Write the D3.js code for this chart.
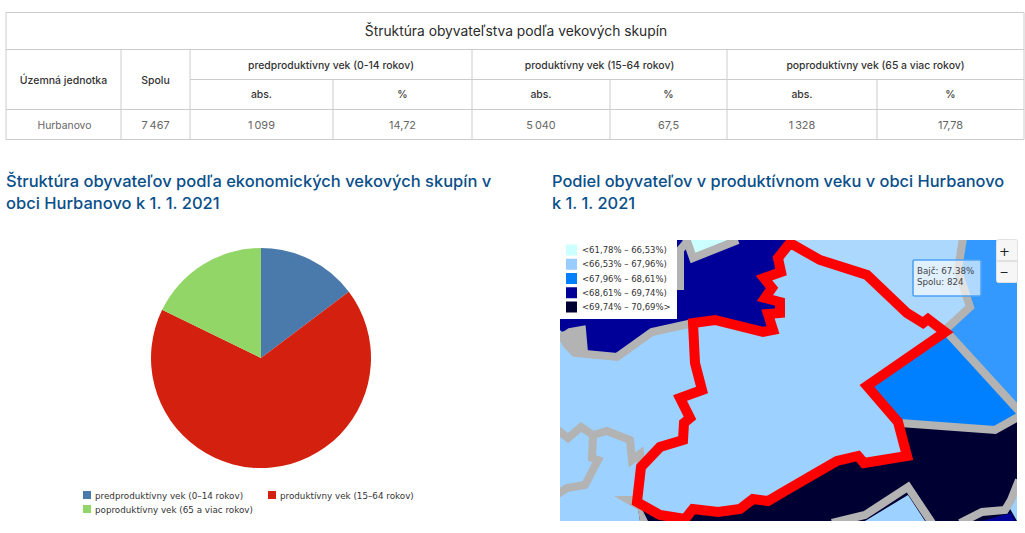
<!DOCTYPE html>
<html lang="sk"><head><meta charset="utf-8">
<script src="https://cdn.jsdelivr.net/npm/d3@7/dist/d3.min.js"></script>
<style>html,body{margin:0;background:#fff}svg{display:block}</style></head>
<body><svg id="c" width="1025" height="533"></svg>
<script>
// ---------- data ----------
const tableTitle = "Štruktúra obyvateľstva podľa vekových skupín";
const groupHeaders = ["predproduktívny vek (0-14 rokov)","produktívny vek (15-64 rokov)","poproduktívny vek (65 a viac rokov)"];
const rowHeaders = ["Územná jednotka","Spolu"];
const subHeaders = ["abs.","%","abs.","%","abs.","%"];
const rowValues = ["Hurbanovo","7\u2009467","1\u2009099","14,72","5\u2009040","67,5","1\u2009328","17,78"];
const pieTitle = ["Štruktúra obyvateľov podľa ekonomických vekových skupín v","obci Hurbanovo k 1. 1. 2021"];
const mapTitle = ["Podiel obyvateľov v produktívnom veku v obci Hurbanovo","k 1. 1. 2021"];
const pieLabels = ["predproduktívny vek (0–14 rokov)","produktívny vek (15–64 rokov)","poproduktívny vek (65 a viac rokov)"];
const pieValues = [14.72,67.5,17.78];
const pieColors = ["#4a7aab","#d4200f","#93d668"];
const mapClasses = ["<61,78% – 66,53%)","<66,53% – 67,96%)","<67,96% – 68,61%)","<68,61% – 69,74%)","<69,74% – 70,69%>"];
const mapClassColors = ["#ccffff","#99ccff","#0080ff","#000099","#000033"];
const tooltipLines = ["Bajč: 67.38%","Spolu: 824"];

// map geometry (map units)
const hurbanovo = [[790,243],[778,258],[781,272],[764,278],[772,288],[765,298],[780,302],[780,313],[768,314],[773,330],[763,332],[715,320],[693,323],[695,363],[702,390],[680,398],[690,418],[684,423],[683,440],[660,447],[641,467],[637,502],[660,515],[685,519],[693,509],[718,512],[740,509],[753,499],[768,501],[785,491],[837,461],[858,456],[864,463],[907,456],[898,422],[867,386],[945,332],[928,319],[923,323],[907,313],[867,275],[820,260]];
const regionBajc = [[790,240],[792,245],[820,260],[867,275],[907,313],[923,323],[928,319],[943,332],[970,307],[958,270],[963,240]];
const regionEast = [[963,240],[958,270],[970,307],[945,330],[1017,408],[1017,240]];
const regionWedge = [[945,332],[867,386],[898,422],[903,423],[995,430],[1017,417],[1017,408],[952,332]];
const regionNorth = [[560,240],[790,240],[778,258],[781,272],[764,278],[772,288],[765,298],[780,302],[780,313],[768,314],[773,330],[763,332],[715,320],[693,323],[652,332],[617,357],[584,352],[575,345],[560,330]];
const regionTop = [[686,240],[738,240],[693,258]];
const regionSouth = [[640,521],[637,502],[660,515],[685,519],[693,509],[718,512],[740,509],[753,499],[768,501],[785,491],[837,461],[858,456],[864,463],[907,456],[898,422],[903,423],[995,430],[1017,417],[1017,521]];
const regionSouthPocket = [[865,521],[908,495],[925,521]];
const regionSouthEdge = [[1017,490],[1009,507],[1017,521]];
const regionSouthSmall = [[982,521],[1011,513],[1015,521]];
const greyLines = [
 [[686,238],[693,258],[738,240]],
 [[686,243],[680,250],[680,290]],
 [[560,333],[567,345],[575,353],[617,357],[652,332],[693,323]],
 [[564,336],[570,332],[582,330],[584,352]],
 [[945,330],[970,307],[958,270],[963,238]],
 [[945,330],[1020,412]],
 [[900,423],[995,430],[1020,416]],
 [[558,430],[568,438],[581,427],[593,435],[607,431],[630,440],[632,460],[640,454],[641,466]],
 [[593,435],[592,458],[598,460],[585,485],[567,488],[558,494]],
 [[832,523],[865,515],[908,487],[932,523]],
 [[960,523],[982,512],[1005,510],[1011,500],[1019,480]]
];
const greyPatch = [[614,496],[634,496],[640,505],[648,521],[640,521],[638,510]];
const greyPocket = [[566,336],[570,332],[582,330],[584,352],[574,352]];

// ---------- helpers ----------
const svg = d3.select("#c");
const tableFont = "Inter, 'Noto Sans', sans-serif";
const colX = [6,121,190,333,472,610,727,877,1024];
const rowY = [12.5,49.5,79.5,109.5,139.5];
const T = svg.append("g");
function tx(g,x,y,s,o={}){return g.append("text").attr("x",x).attr("y",y).attr("text-anchor",o.a||"middle")
 .attr("dominant-baseline","central").attr("font-family",o.f||tableFont).attr("font-size",o.s||10.6)
 .attr("font-weight",o.w||400).attr("fill",o.c||"#333").text(s);}
function ln(x1,y1,x2,y2){T.append("line").attr("x1",x1).attr("y1",y1).attr("x2",x2).attr("y2",y2).attr("stroke","#ccc").attr("stroke-width",1);}

// ---------- table ----------
ln(colX[0],rowY[0],colX[8],rowY[0]);
ln(colX[0],rowY[1],colX[8],rowY[1]);
ln(colX[2],rowY[2],colX[8],rowY[2]);
ln(colX[0],rowY[3],colX[8],rowY[3]);
ln(colX[0],rowY[4],colX[8],rowY[4]);
ln(colX[0],rowY[0],colX[0],rowY[4]);
ln(colX[8],rowY[0],colX[8],rowY[4]);
[1,2,4,6].forEach(i=>ln(colX[i],rowY[1],colX[i],rowY[4]));
[3,5,7].forEach(i=>ln(colX[i],rowY[2],colX[i],rowY[4]));
const mid=(a,b)=>(a+b)/2;
tx(T,mid(colX[0],colX[8])+1,31,tableTitle,{s:13.8,c:"#2b2b2b"});
rowHeaders.forEach((t,i)=>tx(T,mid(colX[i],colX[i+1]),80,t,{w:500,s:10.5}));
groupHeaders.forEach((t,i)=>tx(T,mid(colX[2+2*i],colX[4+2*i]),65,t,{w:500,s:10.4}));
subHeaders.forEach((t,i)=>tx(T,mid(colX[2+i],colX[3+i]),94.5,t,{w:500,s:10.4}));
rowValues.forEach((t,i)=>tx(T,mid(colX[i],colX[i+1])+(i?0:1),124.5,t,{c:"#666",s:i?10.9:10.3}));

// ---------- headings ----------
const headingColor="#0a4f8a";
pieTitle.forEach((t,i)=>tx(svg,6,181+22*i,t,{a:"start",s:16.5,w:500,c:headingColor}));
mapTitle.forEach((t,i)=>tx(svg,552,181+22*i,t,{a:"start",s:16.4,w:500,c:headingColor}));

// ---------- pie ----------
const pieG = svg.append("g").attr("transform","translate(261,358)");
const arc = d3.arc().innerRadius(0).outerRadius(110);
pieG.selectAll("path").data(d3.pie().sort(null)(pieValues)).join("path")
 .attr("d",arc).attr("fill",(d,i)=>pieColors[i]);
const legendFont="'DejaVu Sans', sans-serif";
const pieLegendX=d3.scaleOrdinal().domain(pieLabels).range([83,268,83]);
const pieLegendY=d3.scaleOrdinal().domain(pieLabels).range([495.5,495.5,509.5]);
pieLabels.forEach((t,i)=>{
 svg.append("rect").attr("x",pieLegendX(t)).attr("y",pieLegendY(t)-4.5).attr("width",8).attr("height",8).attr("fill",pieColors[i]);
 tx(svg,pieLegendX(t)+12,pieLegendY(t),t,{a:"start",f:legendFont,s:8.75,c:"#333"});
});

// ---------- map ----------
svg.append("defs").append("clipPath").attr("id","mc").append("rect").attr("x",560).attr("y",240).attr("width",457).attr("height",281);
const x = d3.scaleLinear().domain([560,1017]).range([560,1017]);
const y = d3.scaleLinear().domain([240,521]).range([240,521]);
const line = d3.line().x(d=>x(d[0])).y(d=>y(d[1]));
const M = svg.append("g").attr("clip-path","url(#mc)");
M.append("rect").attr("x",x(560)).attr("y",y(240)).attr("width",457).attr("height",281).attr("fill","#9dd1ff");
const poly=(pts,fill)=>M.append("path").attr("d",line(pts)+"Z").attr("fill",fill);
poly(regionBajc,"#add8fd");
poly(regionEast,"#3399ff");
poly(regionWedge,mapClassColors[2]);
poly(regionNorth,mapClassColors[3]);
poly(regionTop,mapClassColors[0]);
poly(regionSouth,mapClassColors[4]);
poly(regionSouthPocket,"#9dd1ff");
poly(regionSouthEdge,"#9dd1ff");
poly(regionSouthSmall,mapClassColors[3]);
greyLines.forEach(l=>M.append("path").attr("d",line(l)).attr("fill","none").attr("stroke","#b3b3b3").attr("stroke-width",8).attr("stroke-linejoin","miter"));
poly(greyPatch,"#b3b3b3");
poly(greyPocket,"#b3b3b3");
M.append("path").attr("d",line(hurbanovo)+"Z").attr("fill","none").attr("stroke","#ff0000").attr("stroke-width",10).attr("stroke-linejoin","miter");

// map legend
svg.append("rect").attr("x",560).attr("y",240).attr("width",117).attr("height",79).attr("fill","#fff");
const legY=d3.scalePoint().domain(mapClasses).range([250,307]);
mapClasses.forEach((t,i)=>{
 svg.append("rect").attr("x",566).attr("y",legY(t)-5.5).attr("width",11).attr("height",11).attr("fill",mapClassColors[i]);
 tx(svg,582,legY(t),t,{a:"start",f:legendFont,s:8.5,c:"#333"});
});

// zoom control
const Z=svg.append("g");
Z.append("rect").attr("x",996.5).attr("y",239.5).attr("width",21).attr("height",43).attr("rx",2).attr("fill","#f6f6f6").attr("stroke","#dfe3e6");
Z.append("line").attr("x1",997).attr("x2",1017).attr("y1",261).attr("y2",261).attr("stroke","#ccc");
tx(Z,1004.5,251.5,"+",{f:legendFont,s:13,c:"#222"});
tx(Z,1004,272,"−",{f:legendFont,s:11,c:"#222"});

// tooltip
const TT=svg.append("g");
TT.append("rect").attr("x",913).attr("y",260).attr("width",68).attr("height",36).attr("rx",1.5)
 .attr("fill","#fff").attr("fill-opacity",.62).attr("stroke","#4ca3f5").attr("stroke-width",1.6);
tooltipLines.forEach((t,i)=>tx(TT,917,271+11*i,t,{a:"start",f:legendFont,s:8.7,c:"#444"}));
</script></body></html>
